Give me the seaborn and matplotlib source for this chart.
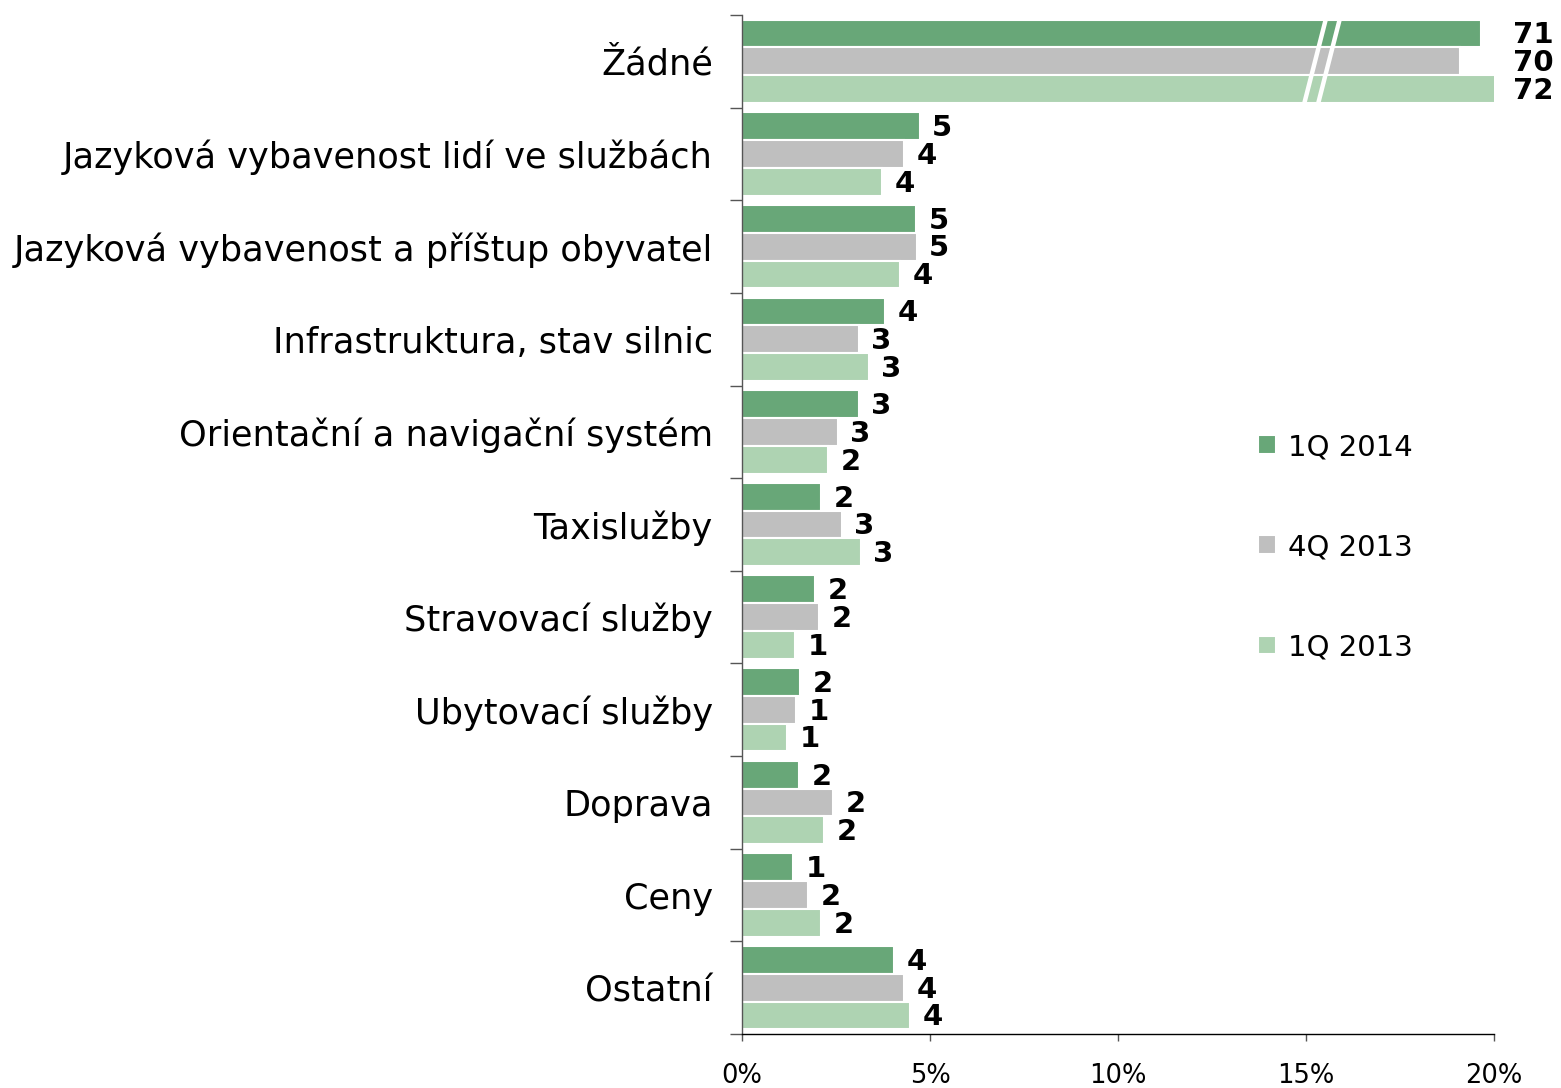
import numpy as np
import pandas as pd
import matplotlib
matplotlib.use("Agg")
import matplotlib.pyplot as plt
import seaborn as sns

categories = [
    "Žádné",
    "Jazyková vybavenost lidí ve službách",
    "Jazyková vybavenost a příštup obyvatel",
    "Infrastruktura, stav silnic",
    "Orientační a navigační systém",
    "Taxislužby",
    "Stravovací služby",
    "Ubytovací služby",
    "Doprava",
    "Ceny",
    "Ostatní",
]
series = ["1Q 2014", "4Q 2013", "1Q 2013"]
q1_2014 = [71, 4.73, 4.63, 3.80, 3.11, 2.10, 1.94, 1.54, 1.52, 1.36, 4.04]
q4_2013 = [70, 4.31, 4.65, 3.11, 2.55, 2.66, 2.05, 1.44, 2.42, 1.76, 4.31]
q1_2013 = [72, 3.72, 4.20, 3.38, 2.29, 3.16, 1.41, 1.20, 2.18, 2.10, 4.47]
colors = ["#68A778", "#BFBFBF", "#AED3B2"]

AXIS_MAX = 20


def broken_scale(v):
    """Values beyond the axis range are compressed after a scale break."""
    if v <= AXIS_MAX:
        return v
    return 19.65 + (v - 71) * 0.55


df = pd.DataFrame({
    "kategorie": categories * 3,
    "období": [s for s in series for _ in categories],
    "hodnota": q1_2014 + q4_2013 + q1_2013,
})
df["délka"] = df["hodnota"].apply(broken_scale)

sns.set_theme(style="white")
plt.rcParams["font.family"] = ["DejaVu Sans"]
plt.rcParams["text.color"] = "black"

fig = plt.figure(figsize=(15.61, 10.88), dpi=100)
ax = fig.add_axes([0.4753, 0.0496, 0.9571 - 0.4753, 0.9862 - 0.0496])

sns.barplot(data=df, x="délka", y="kategorie", hue="období", order=categories,
            hue_order=series, palette=colors, orient="h", width=0.9,
            edgecolor="white", linewidth=1.5, saturation=1, ax=ax)

ax.set_xlim(0, AXIS_MAX)
ax.set_ylim(len(categories) - 0.5, -0.5)

# value labels
for container, s in zip(ax.containers, series):
    vals = df[df["období"] == s]["hodnota"].tolist()
    for patch, v in zip(container.patches, vals):
        y = patch.get_y() + patch.get_height() / 2
        end = patch.get_x() + patch.get_width()
        xpos = 20.5 if v > AXIS_MAX else end + 0.33
        ax.text(xpos, y + 0.02, f"{v:.0f}", ha="left", va="center",
                fontsize=21, fontweight="bold", color="black", clip_on=False)

# scale break marks on the long bars
yb0 = -0.5 + 0.04
yb1 = 0.5 - 0.04
for x_top, x_bot in ((15.53, 14.95), (15.9, 15.32)):
    ax.plot([x_top, x_bot], [yb0, yb1], color="white", lw=3.2,
            solid_capstyle="butt", zorder=5)

ax.set_xticks([0, 5, 10, 15, 20])
ax.set_xticklabels(["0%", "5%", "10%", "15%", "20%"], fontsize=18.5)
ax.set_yticks(range(len(categories)))
ax.set_yticklabels(categories, fontsize=25.3)
ax.set_yticks(np.arange(-0.5, len(categories), 1), minor=True)
ax.tick_params(axis="y", which="major", length=0, pad=21, labelcolor="black")
ax.tick_params(axis="y", which="minor", length=9, width=1, color="#555555", left=True)
ax.tick_params(axis="x", which="major", length=5, width=1, color="#555555",
               bottom=True, pad=16, labelcolor="black")
ax.set_xlabel("")
ax.set_ylabel("")

for side in ("top", "right"):
    ax.spines[side].set_visible(False)
ax.spines["left"].set_color("#555555")
ax.spines["bottom"].set_color("black")
ax.spines["left"].set_linewidth(1)
ax.spines["bottom"].set_linewidth(1)

handles, labels = ax.get_legend_handles_labels()
leg = ax.legend(handles, labels, loc="upper left", bbox_to_anchor=(0.789, 0.626),
                bbox_transform=fig.transFigure, frameon=False, fontsize=21,
                handlelength=0.62, handleheight=0.62, handletextpad=0.4,
                labelspacing=2.47)
for t in leg.get_texts():
    t.set_color("black")

fig.savefig("out.png", dpi=100)
